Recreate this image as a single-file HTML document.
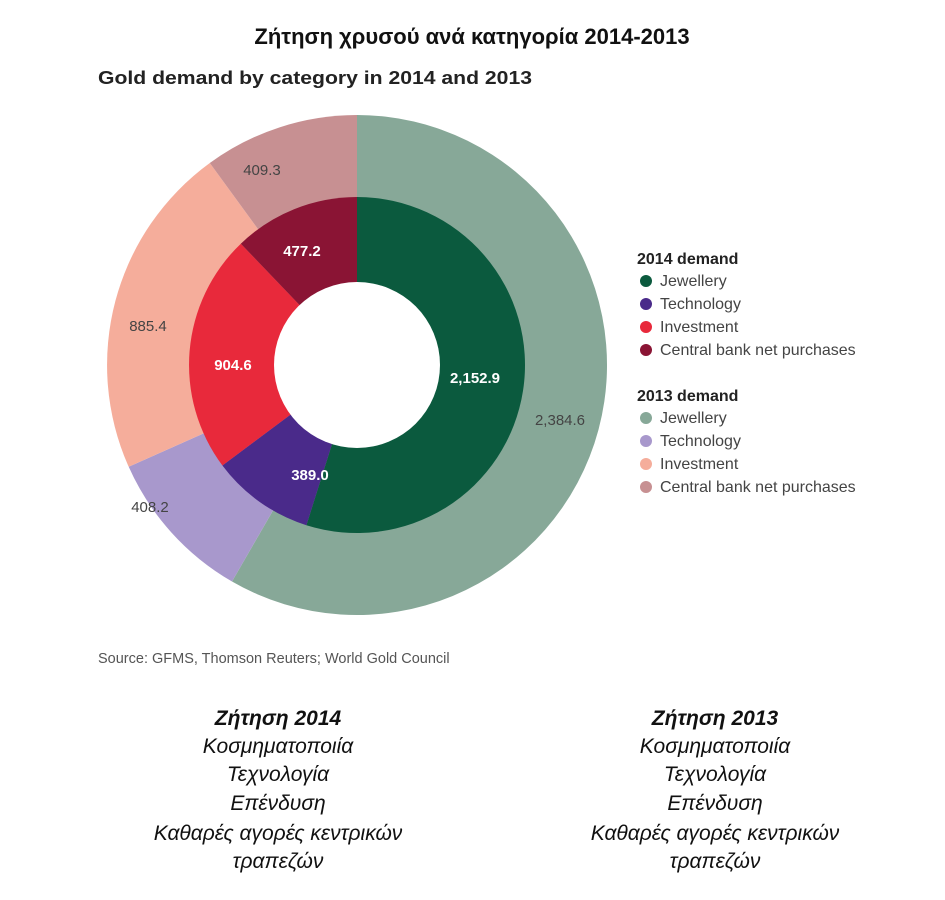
<!DOCTYPE html>
<html><head><meta charset="utf-8"><style>
body{margin:0;background:#fff;width:945px;height:900px;overflow:hidden}
svg{display:block}
</style></head><body>
<svg width="945" height="900" xmlns="http://www.w3.org/2000/svg" font-family="Liberation Sans, sans-serif">
<text x="472" y="44" text-anchor="middle" font-size="22" font-weight="bold" fill="#111">Ζήτηση χρυσού ανά κατηγορία 2014-2013</text>
<text x="98" y="84" font-size="18" font-weight="bold" fill="#222" textLength="434" lengthAdjust="spacingAndGlyphs">Gold demand by category in 2014 and 2013</text>
<!-- outer 2013 -->
<path d="M357 365 L357 115 A250 250 0 1 1 232 581.5 Z" fill="#87a898"/>
<path d="M357 365 L232 581.5 A250 250 0 0 1 128.7 466.8 Z" fill="#a898cc"/>
<path d="M357 365 L128.7 466.8 A250 250 0 0 1 209.8 163 Z" fill="#f5ad9b"/>
<path d="M357 365 L209.8 163 A250 250 0 0 1 357 115 Z" fill="#c79092"/>
<!-- inner 2014 -->
<path d="M357 365 L357 197 A168 168 0 1 1 306.4 525.2 Z" fill="#0b5a3e"/>
<path d="M357 365 L306.4 525.2 A168 168 0 0 1 222.4 465.5 Z" fill="#4a2a8a"/>
<path d="M357 365 L222.4 465.5 A168 168 0 0 1 240.8 243.7 Z" fill="#e8293b"/>
<path d="M357 365 L240.8 243.7 A168 168 0 0 1 357 197 Z" fill="#8a1434"/>
<circle cx="357" cy="365" r="83" fill="#fff"/>
<g font-size="15" font-weight="bold" fill="#fff" text-anchor="middle">
<text x="475" y="383">2,152.9</text>
<text x="310" y="480">389.0</text>
<text x="233" y="370">904.6</text>
<text x="302" y="256">477.2</text>
</g>
<g font-size="15" fill="#444" text-anchor="middle">
<text x="560" y="425">2,384.6</text>
<text x="150" y="512">408.2</text>
<text x="148" y="331">885.4</text>
<text x="262" y="175">409.3</text>
</g>
<g font-size="16" fill="#444">
<text x="637" y="264" font-weight="bold" fill="#222">2014 demand</text>
<circle cx="646" cy="281" r="6" fill="#0b5a3e"/><text x="660" y="286">Jewellery</text>
<circle cx="646" cy="304" r="6" fill="#4a2a8a"/><text x="660" y="309">Technology</text>
<circle cx="646" cy="327" r="6" fill="#e8293b"/><text x="660" y="332">Investment</text>
<circle cx="646" cy="350" r="6" fill="#8a1434"/><text x="660" y="355">Central bank net purchases</text>
<text x="637" y="401" font-weight="bold" fill="#222">2013 demand</text>
<circle cx="646" cy="418" r="6" fill="#87a898"/><text x="660" y="423">Jewellery</text>
<circle cx="646" cy="441" r="6" fill="#a898cc"/><text x="660" y="446">Technology</text>
<circle cx="646" cy="464" r="6" fill="#f5ad9b"/><text x="660" y="469">Investment</text>
<circle cx="646" cy="487" r="6" fill="#c79092"/><text x="660" y="492">Central bank net purchases</text>
</g>
<text x="98" y="663" font-size="14.5" fill="#555">Source: GFMS, Thomson Reuters; World Gold Council</text>
<g font-size="21" font-style="italic" fill="#111" text-anchor="middle">
<text x="278" y="725" font-weight="bold">Ζήτηση 2014</text>
<text x="278" y="753">Κοσμηματοποιία</text>
<text x="278" y="781">Τεχνολογία</text>
<text x="278" y="810">Επένδυση</text>
<text x="278" y="840">Καθαρές αγορές κεντρικών</text>
<text x="278" y="868">τραπεζών</text>
<text x="715" y="725" font-weight="bold">Ζήτηση 2013</text>
<text x="715" y="753">Κοσμηματοποιία</text>
<text x="715" y="781">Τεχνολογία</text>
<text x="715" y="810">Επένδυση</text>
<text x="715" y="840">Καθαρές αγορές κεντρικών</text>
<text x="715" y="868">τραπεζών</text>
</g>
</svg>
</body></html>
